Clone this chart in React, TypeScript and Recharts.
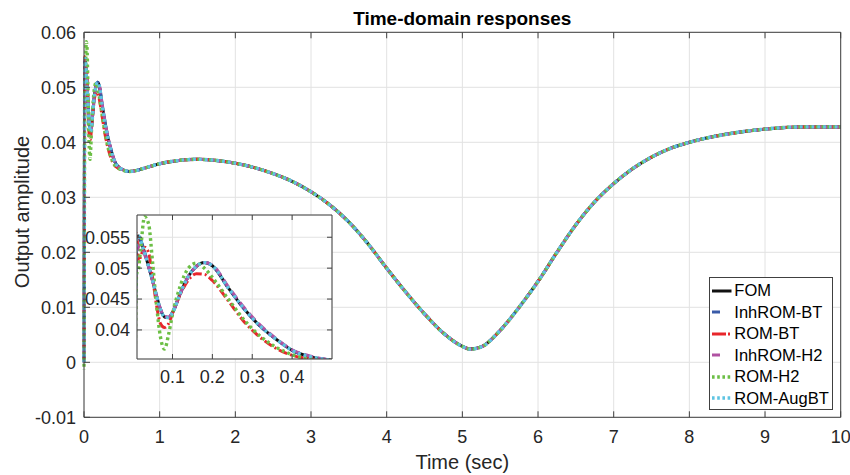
import { CartesianGrid, Legend, Line, LineChart, XAxis, YAxis } from 'recharts';

const FONT = '"Liberation Sans", Arial, Helvetica, sans-serif';
const AXIS = '#404040';
const TEXT = '#262626';
const GRID = '#e2e2e2';

// samples up to 0.5 s, where the models still differ
const timeEarly = [
  0, 0.005, 0.01, 0.015, 0.02, 0.03, 0.04, 0.05, 0.06, 0.07, 0.08, 0.09, 0.1, 0.12, 0.14, 0.16, 0.18,
  0.2, 0.24, 0.28, 0.32, 0.36, 0.4, 0.45, 0.5,
];
const fomEarly = [
  0, 0.03, 0.0545, 0.0552, 0.0545, 0.0525, 0.0503, 0.048, 0.0455, 0.0433, 0.0421, 0.042, 0.0428, 0.046,
  0.0487, 0.0503, 0.0509, 0.0504, 0.0468, 0.0434, 0.0406, 0.0385, 0.0367, 0.0356, 0.0351,
];
const inhRomBtEarly = [
  0, 0.031, 0.055, 0.0553, 0.0546, 0.0526, 0.0503, 0.048, 0.0455, 0.0433, 0.0421, 0.042, 0.0428, 0.046,
  0.0487, 0.0503, 0.0509, 0.0504, 0.0468, 0.0434, 0.0406, 0.0385, 0.0367, 0.0356, 0.0351,
];
const romBtEarly = [
  0, 0.032, 0.0556, 0.051, 0.0518, 0.0534, 0.0525, 0.0485, 0.044, 0.041, 0.0404, 0.041, 0.0427, 0.0458,
  0.0481, 0.0491, 0.049, 0.048, 0.0447, 0.0413, 0.0388, 0.037, 0.0359, 0.0353, 0.035,
];
const inhRomH2Early = [
  0, 0.029, 0.052, 0.0535, 0.0538, 0.0522, 0.0502, 0.048, 0.0456, 0.0434, 0.0422, 0.0421, 0.0428, 0.046,
  0.0487, 0.0503, 0.0509, 0.0505, 0.047, 0.0436, 0.0408, 0.0386, 0.0368, 0.0357, 0.0351,
];
const romH2Early = [
  -0.0014, 0.025, 0.049, 0.05, 0.053, 0.0583, 0.0572, 0.051, 0.044, 0.0388, 0.0369, 0.0392, 0.0425, 0.0472,
  0.05, 0.0508, 0.05, 0.0485, 0.045, 0.0416, 0.039, 0.0372, 0.036, 0.0353, 0.035,
];
const romAugBtEarly = [
  0, 0.03, 0.0548, 0.0552, 0.0545, 0.0525, 0.0503, 0.048, 0.0455, 0.0433, 0.0421, 0.042, 0.0428, 0.046,
  0.0487, 0.0503, 0.0509, 0.0504, 0.0468, 0.0434, 0.0406, 0.0385, 0.0367, 0.0356, 0.0351,
];

// after 0.5 s all six curves sit on top of each other
const timeLate = [
  0.6, 0.7, 0.8, 1, 1.25, 1.5, 1.75, 2, 2.25, 2.5, 2.75, 3, 3.25, 3.5, 3.75, 4, 4.25, 4.5, 4.75, 5, 5.1,
  5.25, 5.5, 5.75, 6, 6.25, 6.5, 6.75, 7, 7.25, 7.5, 7.75, 8, 8.5, 9, 9.5, 10,
];
const sharedLate = [
  0.0347, 0.0349, 0.0353, 0.0361, 0.0367, 0.0369, 0.0367, 0.0362, 0.0354, 0.0343, 0.0329, 0.031, 0.0286,
  0.0255, 0.0216, 0.0171, 0.0128, 0.0088, 0.0053, 0.0029, 0.0024, 0.0028, 0.0058, 0.01, 0.0147, 0.02, 0.025,
  0.0292, 0.0325, 0.0352, 0.0373, 0.0389, 0.04, 0.0415, 0.0424, 0.0428, 0.0428,
];

const xTicks = [0, 1, 2, 3, 4, 5, 6, 7, 8, 9, 10];
const yTicks = [-0.01, 0, 0.01, 0.02, 0.03, 0.04, 0.05, 0.06];
const insetXTicks = [0.1, 0.2, 0.3, 0.4];
const insetYTicks = [0.04, 0.045, 0.05, 0.055];

const SERIES = [
  { key: 'fom', name: 'FOM', early: fomEarly, color: '#111111', width: 3, dash: undefined, offset: 0, legendDash: undefined },
  { key: 'inhbt', name: 'InhROM-BT', early: inhRomBtEarly, color: '#3a5ba8', width: 3, dash: '9 5', offset: 0, legendDash: '8 30' },
  { key: 'rombt', name: 'ROM-BT', early: romBtEarly, color: '#e8262b', width: 3, dash: '9 3 2 3', offset: 4, legendDash: '14 2 2 20' },
  { key: 'inhh2', name: 'InhROM-H2', early: inhRomH2Early, color: '#b052a2', width: 3, dash: '9 5', offset: 7, legendDash: '8 30' },
  { key: 'romh2', name: 'ROM-H2', early: romH2Early, color: '#6cbf45', width: 3.4, dash: '2.8 3', offset: 2.5, legendDash: '2.6 2.6' },
  { key: 'augbt', name: 'ROM-AugBT', early: romAugBtEarly, color: '#5ec4e2', width: 3.4, dash: '2.8 3', offset: 0, legendDash: '2.6 2.6' },
];

const time = [...timeEarly, ...timeLate];
const data = time.map((t, i) => {
  const row: Record<string, number> = { t };
  SERIES.forEach((s) => {
    row[s.key] = i < timeEarly.length ? s.early[i] : sharedLate[i - timeEarly.length];
  });
  return row;
});
const insetData = data.filter((r) => r.t >= 0.005 && r.t <= 0.6);

const tickStyle = { fontSize: 18, fill: TEXT, fontFamily: FONT };
const blank = () => '';

function renderLegend() {
  return (
    <div
      style={{
        width: 124,
        height: 133,
        boxSizing: 'border-box',
        border: `1px solid ${AXIS}`,
        background: '#fff',
        paddingTop: 2.5,
        fontFamily: FONT,
        fontSize: 16.5,
        color: '#000',
      }}
    >
      {SERIES.map((s) => (
        <div key={s.key} style={{ display: 'flex', alignItems: 'center', height: 21.5 }}>
          <svg width={24} height={10} style={{ flex: 'none' }}>
            <line x1={2} x2={21.5} y1={5} y2={5} stroke={s.color} strokeWidth={s.width} strokeDasharray={s.legendDash} />
          </svg>
          <span style={{ whiteSpace: 'nowrap' }}>{s.name}</span>
        </div>
      ))}
    </div>
  );
}

function seriesLines() {
  return SERIES.map((s) => (
    <Line
      key={s.key}
      type="monotone"
      dataKey={s.key}
      name={s.name}
      stroke={s.color}
      strokeWidth={s.width}
      strokeDasharray={s.dash}
      strokeDashoffset={s.offset}
      dot={false}
      activeDot={false}
      isAnimationActive={false}
    />
  ));
}

export default function App() {
  return (
    <div style={{ position: 'absolute', left: 0, top: 0, width: 850, height: 475, background: '#fff' }}>
      <LineChart width={850} height={475} data={data} margin={{ top: 31.3, right: 8.3, bottom: 0, left: 0 }}>
        <CartesianGrid stroke={GRID} strokeWidth={1} />
        <XAxis
          type="number"
          dataKey="t"
          domain={[0, 10]}
          ticks={xTicks}
          height={57.7}
          stroke={AXIS}
          tick={tickStyle}
          tickSize={-6}
          tickMargin={19}
        />
        <XAxis
          xAxisId="top"
          orientation="top"
          type="number"
          dataKey="t"
          domain={[0, 10]}
          ticks={xTicks}
          height={1}
          stroke={AXIS}
          tickSize={-6}
          tickFormatter={blank}
        />
        <YAxis
          type="number"
          domain={[-0.01, 0.06]}
          ticks={yTicks}
          width={84}
          stroke={AXIS}
          tick={tickStyle}
          tickSize={-6}
          tickMargin={14}
        />
        <YAxis
          yAxisId="right"
          orientation="right"
          type="number"
          domain={[-0.01, 0.06]}
          ticks={yTicks}
          width={1}
          stroke={AXIS}
          tickSize={-6}
          tickFormatter={blank}
        />
        {seriesLines()}
        <Legend
          layout="vertical"
          align="center"
          verticalAlign="middle"
          wrapperStyle={{ position: 'absolute', left: 709.3, top: 276.7, width: 124, height: 133 }}
          content={renderLegend}
        />
      </LineChart>

      <div style={{ position: 'absolute', left: 81.3, top: 214 }}>
        <LineChart width={252} height={175} data={insetData} margin={{ top: 0, right: 0, bottom: 0, left: 0 }}>
          <CartesianGrid stroke={GRID} strokeWidth={1} fill="#fff" fillOpacity={1} />
          <XAxis
            type="number"
            dataKey="t"
            domain={[0.011, 0.5]}
            allowDataOverflow
            ticks={insetXTicks}
            height={30}
            stroke={AXIS}
            tick={tickStyle}
            tickSize={-5}
            tickMargin={16}
          />
          <XAxis
            xAxisId="top"
            orientation="top"
            type="number"
            dataKey="t"
            domain={[0.011, 0.5]}
            allowDataOverflow
            ticks={insetXTicks}
            height={1}
            stroke={AXIS}
            tickSize={-5}
            tickFormatter={blank}
          />
          <YAxis
            type="number"
            domain={[0.0353, 0.0586]}
            allowDataOverflow
            ticks={insetYTicks}
            width={56}
            stroke={AXIS}
            tick={tickStyle}
            tickSize={-5}
            tickMargin={12}
          />
          <YAxis
            yAxisId="right"
            orientation="right"
            type="number"
            domain={[0.0353, 0.0586]}
            allowDataOverflow
            ticks={insetYTicks}
            width={1}
            stroke={AXIS}
            tickSize={-5}
            tickFormatter={blank}
          />
          {seriesLines()}
        </LineChart>
      </div>

      <svg
        width={850}
        height={475}
        style={{ position: 'absolute', left: 0, top: 0, pointerEvents: 'none' }}
        fontFamily={FONT}
      >
        <text x={462.3} y={24.5} textAnchor="middle" fontSize={19} fontWeight="bold" fill="#000">
          Time-domain responses
        </text>
        <text x={462.3} y={468.5} textAnchor="middle" fontSize={20} fill={TEXT}>
          Time (sec)
        </text>
        <text x={29} y={212} textAnchor="middle" fontSize={20} fill={TEXT} transform="rotate(-90 29 212)">
          Output amplitude
        </text>
      </svg>
    </div>
  );
}
